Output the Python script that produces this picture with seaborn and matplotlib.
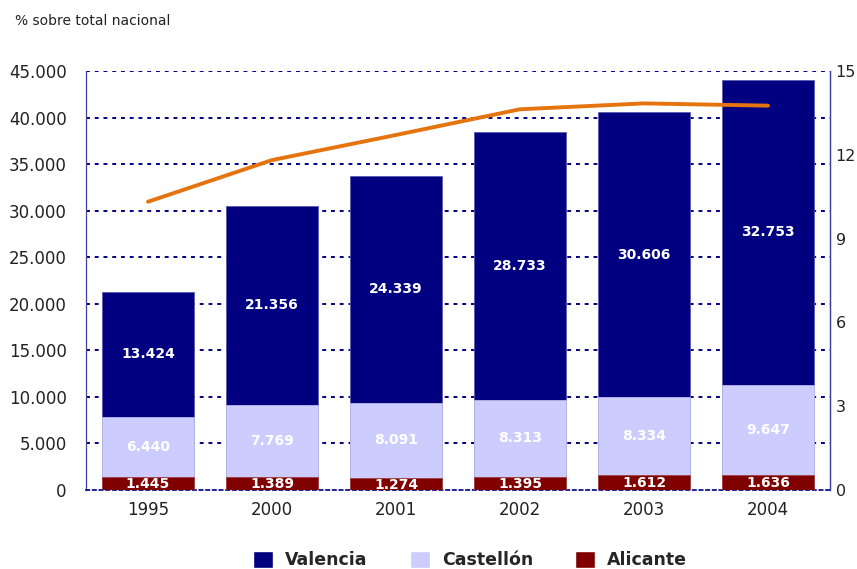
import matplotlib
matplotlib.use("Agg")
import matplotlib.pyplot as plt
import seaborn as sns
import numpy as np
import pandas as pd
from matplotlib.patches import Patch

# datos
years = ["1995", "2000", "2001", "2002", "2003", "2004"]
valencia = [13424, 21356, 24339, 28733, 30606, 32753]
castellon = [6440, 7769, 8091, 8313, 8334, 9647]
alicante = [1445, 1389, 1274, 1395, 1612, 1636]
pct_nacional = [10.32, 11.81, 12.71, 13.63, 13.84, 13.76]

c_val = "#000080"
c_cas = "#CCCCFF"
c_ali = "#800000"
c_line = "#E5740E"
grid_col = "#000080"

sns.set_style("white")
plt.rcParams["font.family"] = ["DejaVu Sans"]

df = pd.DataFrame({"year": years, "Valencia": valencia,
                   "Castellón": castellon, "Alicante": alicante})
df["low"] = df["Alicante"]
df["mid"] = df["Alicante"] + df["Castellón"]
df["total"] = df["mid"] + df["Valencia"]

fig = plt.figure(figsize=(8.57, 5.69), dpi=100)
ax = fig.add_axes([86 / 857, 1 - 490 / 569, 744 / 857, 419 / 569])

# barras apiladas (se dibuja el total y se superponen los tramos)
sns.barplot(data=df, x="year", y="total", color=c_val, width=0.74,
            saturation=1, edgecolor="#5A5AB0", linewidth=0.6, ax=ax, zorder=3)
sns.barplot(data=df, x="year", y="mid", color=c_cas, width=0.74,
            saturation=1, edgecolor="#B8B8E8", linewidth=0.6, ax=ax, zorder=4)
sns.barplot(data=df, x="year", y="low", color=c_ali, width=0.74,
            saturation=1, edgecolor="#A04040", linewidth=0.6, ax=ax, zorder=5)

ax.set_ylim(0, 45000)
ax.set_xlim(-0.5, 5.5)
ax.set_yticks(np.arange(0, 45001, 5000))
ax.set_yticklabels([f"{v:,}".replace(",", ".") for v in range(0, 45001, 5000)])
ax.set_xlabel("")
ax.set_ylabel("")
ax.tick_params(axis="both", length=0, labelsize=12, colors="#222222")
ax.tick_params(axis="x", pad=8)
ax.tick_params(axis="y", pad=14)
for y in range(5000, 45001, 5000):
    ax.axhline(y, color=grid_col, linestyle=(0, (2, 2.5)), linewidth=1.4, zorder=1)
for s in ["left", "right"]:
    ax.spines[s].set_color("#4040A0")
    ax.spines[s].set_linewidth(0.9)
ax.spines["top"].set_visible(False)
ax.spines["bottom"].set_color("#000080")
ax.spines["bottom"].set_linewidth(1.2)
ax.spines["bottom"].set_linestyle((0, (2, 2)))

# etiquetas de valores
def fmt(v):
    return f"{v:,}".replace(",", ".")

for i in range(len(years)):
    ax.text(i, alicante[i] / 2 - 80, fmt(alicante[i]), ha="center", va="center",
            color="white", fontsize=10, fontweight="bold", zorder=6)
    ax.text(i, alicante[i] + castellon[i] / 2, fmt(castellon[i]), ha="center",
            va="center", color="white", fontsize=10, fontweight="bold", zorder=6)
    ax.text(i, alicante[i] + castellon[i] + valencia[i] / 2, fmt(valencia[i]),
            ha="center", va="center", color="white", fontsize=10,
            fontweight="bold", zorder=6)

# eje secundario: % sobre total nacional
ax2 = ax.twinx()
sns.lineplot(x=np.arange(len(years)), y=pct_nacional, color=c_line,
             linewidth=2.8, ax=ax2, zorder=7)
ax2.set_ylim(0, 15)
ax2.set_yticks([0, 3, 6, 9, 12, 15])
ax2.tick_params(axis="y", length=0, labelsize=11.5, colors="#222222", pad=4)
for s in ["top", "left", "bottom"]:
    ax2.spines[s].set_visible(False)
ax2.spines["right"].set_color("#4040A0")
ax2.spines["right"].set_linewidth(0.9)

fig.text(15 / 857, 1 - 21 / 569, "% sobre total nacional", fontsize=10,
         va="center", ha="left", color="#222222")

# leyenda
handles = [Patch(facecolor=c_val, label="Valencia"),
           Patch(facecolor=c_cas, label="Castellón"),
           Patch(facecolor=c_ali, label="Alicante")]
fig.legend(handles=handles, loc="center", bbox_to_anchor=(470 / 857, 1 - 560 / 569),
           ncol=3, frameon=False, prop={"weight": "bold", "size": 12.5},
           handlelength=1.15, handleheight=1.15, columnspacing=2.4,
           handletextpad=0.7)

fig.savefig("out.png", dpi=100)
